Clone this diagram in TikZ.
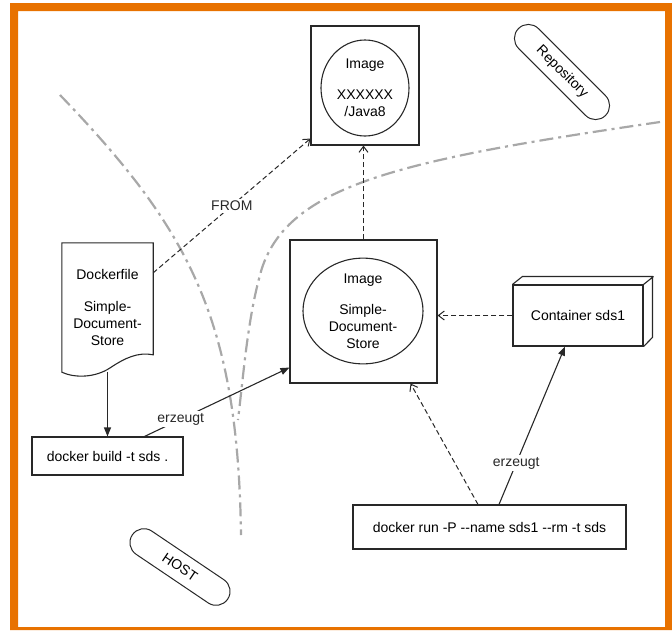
\documentclass[tikz,border=0pt]{standalone}
\usepackage{fontspec}
\setmainfont{Liberation Sans}[Ligatures=TeXOff]
\usepackage{tikz}
\usetikzlibrary{positioning,arrows.meta,shapes.geometric,shapes.misc}
\definecolor{frame}{RGB}{232,114,0}
\definecolor{ink}{RGB}{40,40,40}
\definecolor{zone}{RGB}{168,168,168}

\begin{document}
\begin{tikzpicture}[x=1pt, y=-1pt,
		every node/.style={font=\fontsize{14}{17}\selectfont},
		box/.style={draw=ink, line width=1.1pt, inner sep=0pt},
		disc/.style={ellipse, draw=ink, line width=1.1pt, inner sep=0pt, align=center},
		pill/.style={rounded rectangle, draw=ink, line width=1pt, minimum height=28pt, inner sep=0pt},
		arr/.style={-{Triangle[length=9pt, width=7pt]}, line width=1.1pt, ink},
		dep/.style={-{Straight Barb[length=6pt, width=9pt]}, line width=1pt, ink, dash pattern=on 5pt off 3pt},
		border/.style={zone, line width=2.2pt, dash pattern=on 14pt off 5pt on 3pt off 5pt},
		lbl/.style={fill=white, inner sep=2pt}]
		\useasboundingbox (0,0) rectangle (672,630);
		\fill[frame, even odd rule] (10,3) rectangle (672,630) (18,11) rectangle (665,627);

		\draw[border] (60,95) .. controls (190,230) and (238,320) .. (241,535);
		\draw[border] (660,122) .. controls (400,160) and (290,185) .. (262,268)
			.. controls (248,315) and (244,370) .. (238,420);

		\node[pill, minimum width=123pt, rotate=-45] (repo) at (562,72) {Repository};
		\node[pill, minimum width=115pt, rotate=-34] (host) at (180,567) {HOST};

		\node[box, minimum width=108pt, minimum height=119pt] (javabox) at (365,85.5) {};
		\node[disc, minimum width=88pt, minimum height=96pt] (javaimg) at (365,88)
			{Image\\[14pt]XXXXXX\\/Java8};

		\node[box, minimum width=147pt, minimum height=143pt] (sdsbox) at (363.5,311.5) {};
		\node[disc, minimum width=120pt, minimum height=98pt] (sdsimg) at (363,311)
			{Image\\[14pt]Simple-\\Document-\\Store};

		\node[inner sep=0pt, minimum width=91pt, minimum height=129pt, align=center] (df) at (107.5,307.5)
			{Dockerfile\\[15pt]Simple-\\Document-\\Store};
		\draw[ink, line width=1.1pt] (df.south west) -- (df.north west) -- (df.north east) -- ++(0,112)
			.. controls +(-15,-3) and +(15,-10) .. ++(-43,13)
			.. controls +(-15,10) and +(13,6) .. (df.south west) -- cycle;

		\node[box, minimum width=151pt, minimum height=38pt] (build) at (107.5,456) {docker build -t sds .};

		\node[box, minimum width=130pt, minimum height=61pt] (cont) at (578,315.5) {Container sds1};
		\draw[ink, line width=1.1pt] (cont.north west) -- ++(10,-8) -- ++(130,0) -- ++(0,61) -- (cont.south east)
			(cont.north east) -- ++(10,-8);

		\node[box, minimum width=273pt, minimum height=44pt] (run) at (489.5,527) {docker run -P --name sds1 --rm -t sds};

		\draw[arr] (df.south) -- (build.north);
		\draw[arr] ([xshift=37pt]build.north) -- node[lbl, pos=0.25] {erzeugt} ([yshift=16pt]sdsbox.south west);
		\draw[dep] ([yshift=-30pt]df.north east) -- node[lbl, pos=0.5] {FROM} ([yshift=7pt]javabox.south west);
		\draw[dep] (sdsbox.north) -- (sdsbox.north |- javabox.south);
		\draw[dep] (cont.west) -- (cont.west -| sdsbox.east);
		\draw[arr] ([xshift=9.5pt]run.north) -- node[lbl, pos=0.26] {erzeugt} ([xshift=-13pt]cont.south);
		\draw[dep] ([xshift=-11.5pt]run.north) -- ([xshift=-27pt]sdsbox.south east);
	\end{tikzpicture}
\end{document}
